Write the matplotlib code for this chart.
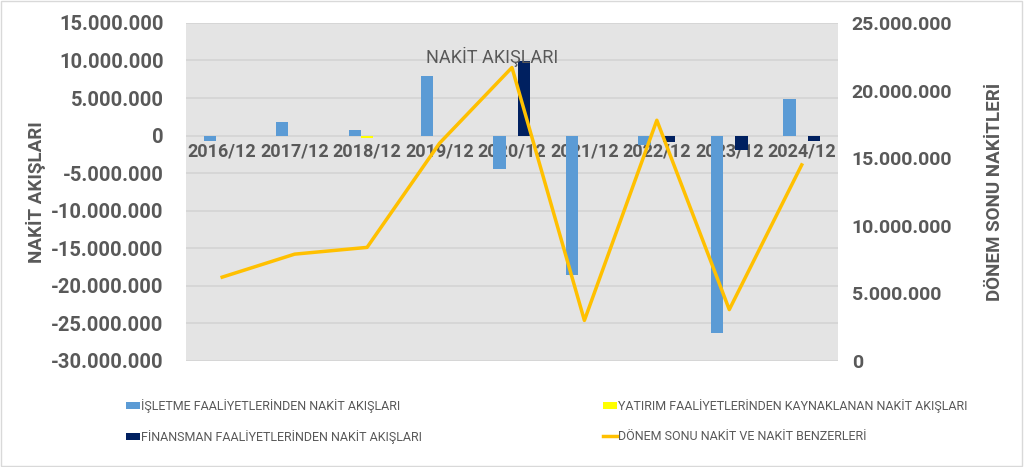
import numpy as np
import matplotlib.pyplot as plt
from matplotlib.ticker import FuncFormatter

# chart data
years = ['2016/12', '2017/12', '2018/12', '2019/12', '2020/12',
         '2021/12', '2022/12', '2023/12', '2024/12']
isletme = [-700000, 1800000, 700000, 7900000, -4400000,
           -18500000, -1300000, -26300000, 4900000]
yatirim = [0, 0, -300000, 0, 0, 0, 0, 0, -100000]
finansman = [0, 0, 0, 0, 9900000, 0, -900000, -1900000, -700000]
donem_sonu = [6200000, 7900000, 8400000, 16100000, 21700000,
              3000000, 17800000, 3800000, 14500000]

gray = '#595959'
plt.rcParams['font.family'] = ['Roboto', 'DejaVu Sans']


def dot_formatter(val, pos):
    """ Format numbers with dot as thousands separator """
    s = f'{abs(val):,.0f}'.replace(',', '.')
    return ('-' if val < 0 else '') + s


fig = plt.figure(figsize=(10.24, 4.67), dpi=100)
ax = fig.add_axes([0.1816, 0.227, 0.6367, 0.724])
ax.set_facecolor('#E4E4E4')

x = np.arange(len(years))
w = 0.17
b1 = ax.bar(x - w, isletme, w, color='#5B9BD5', zorder=2,
            label='İŞLETME FAALİYETLERİNDEN NAKİT AKIŞLARI')
b2 = ax.bar(x, yatirim, w, color='#FFFF00', zorder=2,
            label='YATIRIM FAALİYETLERİNDEN KAYNAKLANAN NAKİT AKIŞLARI')
b3 = ax.bar(x + w, finansman, w, color='#002060', zorder=2,
            label='FİNANSMAN FAALİYETLERİNDEN NAKİT AKIŞLARI')

ax.set_xlim(-0.5, len(years) - 0.5)
ax.set_ylim(-30000000, 15000000)
ax.set_yticks(np.arange(-30000000, 15000001, 5000000))
ax.yaxis.set_major_formatter(FuncFormatter(dot_formatter))
ax.grid(axis='y', color='#D4D4D4', linewidth=1.2, zorder=0)
ax.set_axisbelow(True)

# category labels sit right under the zero line
ax.spines['bottom'].set_position(('data', 0))
for s in ['top', 'right', 'left', 'bottom']:
    ax.spines[s].set_visible(False)
ax.set_xticks(x)
ax.set_xticklabels(years)
ax.tick_params(axis='x', length=0, pad=5, labelsize=13, labelcolor=gray)
ax.tick_params(axis='y', length=0, pad=16, labelsize=14.5, labelcolor=gray)
for lbl in ax.get_xticklabels() + ax.get_yticklabels():
    lbl.set_fontweight('bold')

ax.set_ylabel('NAKİT AKIŞLARI', fontsize=13.5, color=gray,
              fontweight='bold', labelpad=4)
ax.text(0.47, 0.9, 'NAKİT AKIŞLARI', transform=ax.transAxes,
        ha='center', va='center', fontsize=13, color=gray)

# end of period cash on secondary axis
ax2 = ax.twinx()
l1, = ax2.plot(x, donem_sonu, color='#FFC000', linewidth=2.5, zorder=3,
               label='DÖNEM SONU NAKİT VE NAKİT BENZERLERİ')
ax2.set_ylim(0, 25000000)
ax2.set_yticks(np.arange(0, 25000001, 5000000))
ax2.yaxis.set_major_formatter(FuncFormatter(dot_formatter))
for s in ['top', 'right', 'left', 'bottom']:
    ax2.spines[s].set_visible(False)
ax2.tick_params(axis='y', length=0, pad=10, labelsize=14, labelcolor=gray)
for lbl in ax2.get_yticklabels():
    lbl.set_fontweight('bold')
ax2.set_ylabel('DÖNEM SONU NAKİTLERİ', fontsize=13.5, color=gray,
               fontweight='bold', labelpad=24)

# legend below the plot, filled column by column
fig.legend(handles=[b1, b3, b2, l1], loc='upper left', ncol=2,
           bbox_to_anchor=(0.112, 0.17), frameon=False, fontsize=9,
           labelcolor=gray, columnspacing=14.5, handlelength=1.1,
           handleheight=0.5, handletextpad=0.1, labelspacing=1.4)

fig.patches.append(plt.Rectangle((0.001, 0.002), 0.997, 0.995,
                                 transform=fig.transFigure, fill=False,
                                 edgecolor='#D9D9D9', linewidth=1))

plt.savefig('out.png', dpi=100)
